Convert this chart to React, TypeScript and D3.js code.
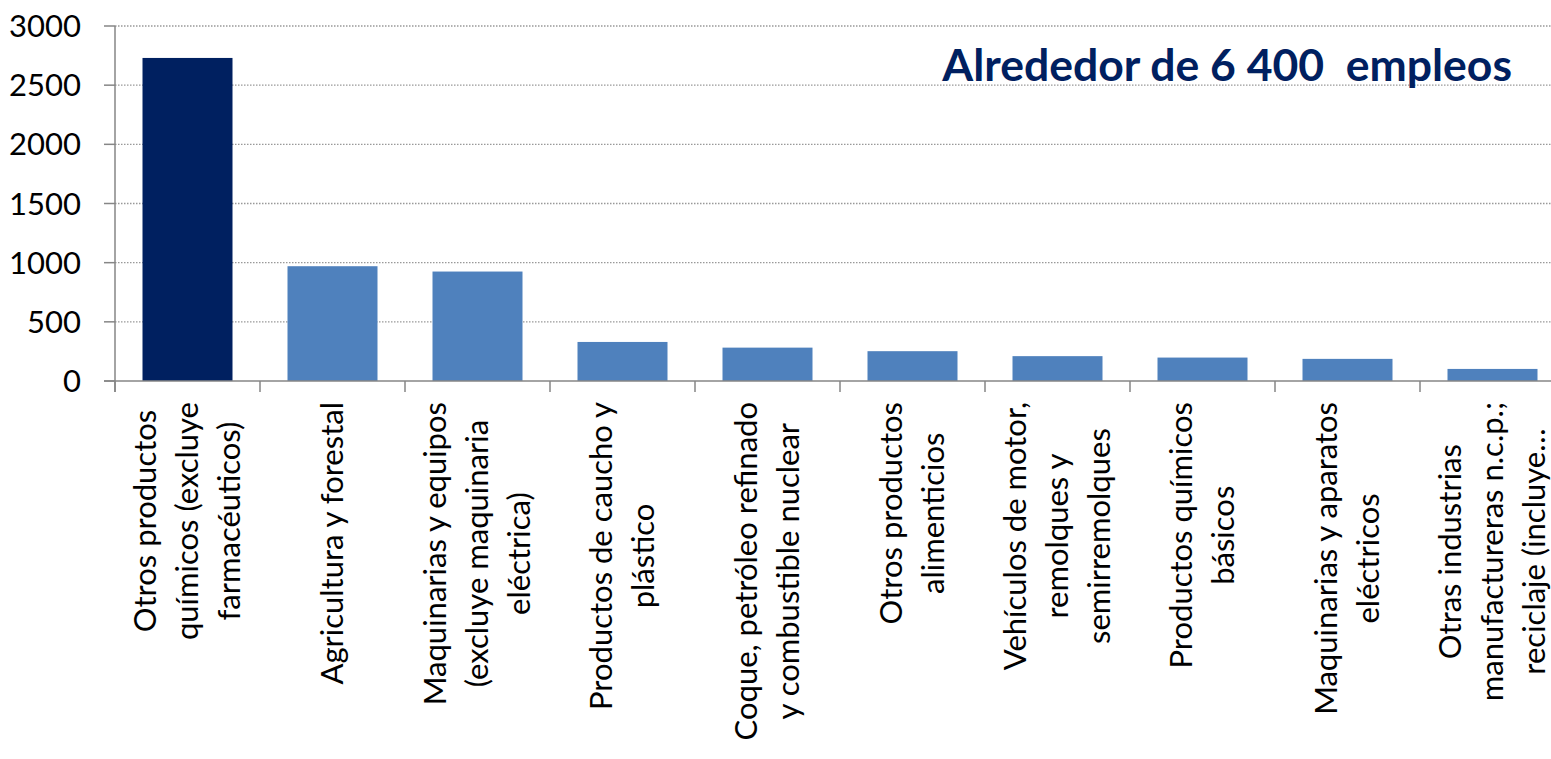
import React, { useRef, useEffect } from "react";
import * as d3 from "d3";

// sector labels, one entry per bar (line breaks as in the source)
const categories: string[][] = [
  ["Otros productos", "químicos (excluye", "farmacéuticos)"],
  ["Agricultura y forestal"],
  ["Maquinarias y equipos", "(excluye maquinaria", "eléctrica)"],
  ["Productos de caucho y", "plástico"],
  ["Coque, petróleo refinado", "y combustible nuclear"],
  ["Otros productos", "alimenticios"],
  ["Vehículos de motor,", "remolques y", "semirremolques"],
  ["Productos químicos", "básicos"],
  ["Maquinarias y aparatos", "eléctricos"],
  ["Otras industrias", "manufactureras n.c.p.;", "reciclaje (incluye…"],
];

// jobs per sector
const values: number[] = [2730, 970, 925, 330, 282, 252, 210, 198, 187, 102];

const yTicks: number[] = [0, 500, 1000, 1500, 2000, 2500, 3000];

const title = "Alrededor de 6 400  empleos";

const WIDTH = 1551;
const HEIGHT = 759;
const FONT = "Lato, 'Open Sans', sans-serif";

const App = () => {
  const svgRef = useRef<SVGSVGElement>(null);

  useEffect(() => {
    const svg = d3.select(svgRef.current);
    svg.selectAll("*").remove();

    const left = 115;
    const right = 1565;
    const top = 26;
    const bottom = 381;

    const x = d3
      .scaleBand<number>()
      .domain(d3.range(values.length))
      .range([left, right])
      .paddingInner(0.3793)
      .paddingOuter(0.3793 / 2);

    const y = d3.scaleLinear().domain([0, 3000]).range([bottom, top]);

    const axisColor = "#868686";

    // gridlines
    svg
      .append("g")
      .selectAll("line")
      .data(yTicks.filter((d) => d > 0))
      .enter()
      .append("line")
      .attr("x1", left)
      .attr("x2", right)
      .attr("y1", (d) => y(d))
      .attr("y2", (d) => y(d))
      .style("stroke", "#999")
      .style("stroke-width", 1.3)
      .style("stroke-dasharray", "1.5 1.5");

    // bars
    svg
      .append("g")
      .selectAll("rect")
      .data(values)
      .enter()
      .append("rect")
      .attr("x", (d, i) => x(i)!)
      .attr("width", x.bandwidth())
      .attr("y", (d) => y(d))
      .attr("height", (d) => bottom - y(d))
      .style("fill", (d, i) => (i === 0 ? "#002060" : "#4F81BD"));

    // y axis
    const yAxis = svg.append("g");
    yAxis
      .append("line")
      .attr("x1", left)
      .attr("x2", left)
      .attr("y1", top)
      .attr("y2", bottom + 11)
      .style("stroke", axisColor)
      .style("stroke-width", 1.5);
    yAxis
      .selectAll(".ytick")
      .data(yTicks)
      .enter()
      .append("line")
      .attr("x1", left - 11)
      .attr("x2", left)
      .attr("y1", (d) => y(d))
      .attr("y2", (d) => y(d))
      .style("stroke", axisColor)
      .style("stroke-width", 1.5);
    yAxis
      .selectAll("text")
      .data(yTicks)
      .enter()
      .append("text")
      .attr("x", 81)
      .attr("y", (d) => y(d))
      .attr("dy", "0.36em")
      .attr("text-anchor", "end")
      .style("font-family", FONT)
      .style("font-size", "31px")
      .style("fill", "#000")
      .text((d) => d);

    // x axis
    const xAxis = svg.append("g");
    xAxis
      .append("line")
      .attr("x1", left - 11)
      .attr("x2", right)
      .attr("y1", bottom)
      .attr("y2", bottom)
      .style("stroke", axisColor)
      .style("stroke-width", 1.5);
    xAxis
      .selectAll("line.xtick")
      .data(d3.range(values.length + 1))
      .enter()
      .append("line")
      .attr("class", "xtick")
      .attr("x1", (i) => left + i * x.step())
      .attr("x2", (i) => left + i * x.step())
      .attr("y1", bottom)
      .attr("y2", bottom + 11)
      .style("stroke", axisColor)
      .style("stroke-width", 1.5);

    // rotated category labels, block aligned to the axis, lines centered
    const lineH = 42;
    categories.forEach((lines, i) => {
      const cx = x(i)! + x.bandwidth() / 2;
      const g = svg
        .append("g")
        .attr("transform", `translate(${cx},${bottom + 21}) rotate(-90)`);
      const texts = lines.map((line, k) =>
        g
          .append("text")
          .attr("y", (k - (lines.length - 1) / 2) * lineH)
          .attr("dy", "0.35em")
          .attr("text-anchor", "middle")
          .style("font-family", FONT)
          .style("font-size", "31px")
          .style("fill", "#000")
          .text(line)
      );
      const w = d3.max(texts, (t) => (t.node() as SVGTextElement).getComputedTextLength()) || 0;
      texts.forEach((t) => t.attr("x", -w / 2));
    });

    // annotation
    svg
      .append("text")
      .attr("x", 1512)
      .attr("y", 81)
      .attr("text-anchor", "end")
      .style("font-family", FONT)
      .style("font-size", "44.5px")
      .style("font-weight", "bold")
      .style("fill", "#002060")
      .style("white-space", "pre")
      .text(title);
  }, []);

  return (
    <svg
      ref={svgRef}
      width={WIDTH}
      height={HEIGHT}
      style={{ position: "absolute", left: 0, top: 0, background: "white" }}
    ></svg>
  );
};

export default App;
